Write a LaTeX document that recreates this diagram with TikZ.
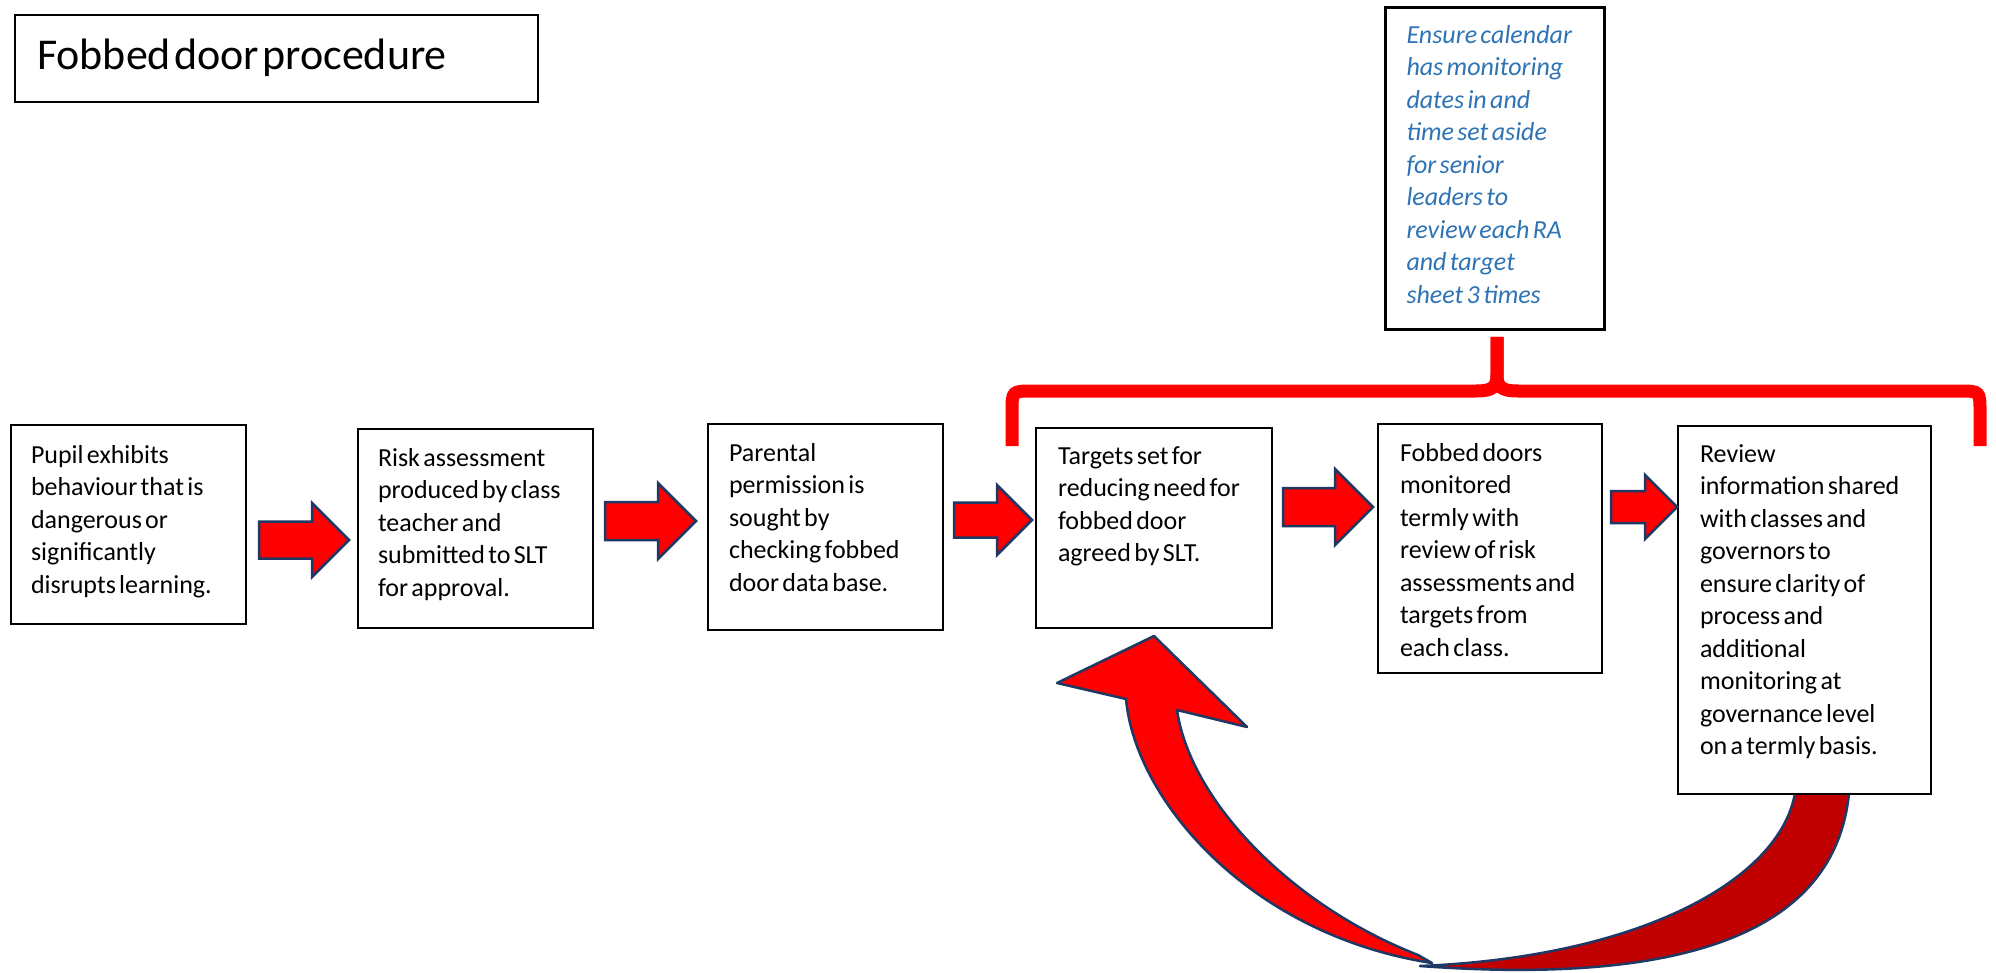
\documentclass[tikz,border=0pt]{standalone}
\usepackage{fontspec}
\setmainfont{Carlito}
\usetikzlibrary{calc,backgrounds}
\definecolor{fobred}{RGB}{255,0,0}
\definecolor{fobdark}{RGB}{192,0,0}
\definecolor{fobnavy}{RGB}{32,56,100}
\definecolor{fobblue}{RGB}{46,116,181}

\tikzset{
  stepbox/.style={draw=black, line width=2pt, fill=white, anchor=north west,
    inner ysep=0pt, inner xsep=21pt, align=left,
    execute at begin node={\fontsize{26}{32.5}\selectfont\rightskip=0pt plus 1fil minus 30pt\relax}},
  notebox/.style={stepbox, line width=3pt, text=fobblue, execute at begin node={\itshape}},
  titlebox/.style={stepbox, execute at begin node={\fontsize{44}{52}\selectfont\rightskip=0pt plus 1fil\relax}},
  blockarrow/.style={fill=fobred, draw=fobnavy, line width=2.5pt},
  bracepath/.style={draw=fobred, line width=13pt},
  loopband/.style={draw=fobnavy, line width=2.5pt, line join=round},
}

% block arrow between two boxes: from, to, centre y, start gap, end gap, half shaft
\newcommand\fobarrow[6]{%
  \path (#1.east |- 0,#3) ++(#4,0) coordinate (#1 out);
  \path (#2.west |- 0,#3) ++(-#5,0) coordinate (#2 in);
  \draw[blockarrow] ($(#1 out)+(0,#6)$) -- ($(#2 in)+(-2*#6,#6)$)
    -- ($(#2 in)+(-2*#6,2*#6)$) -- (#2 in) -- ($(#2 in)+(-2*#6,-2*#6)$)
    -- ($(#2 in)+(-2*#6,-#6)$) -- ($(#1 out)+(0,-#6)$) -- cycle;
}

\begin{document}
\begin{tikzpicture}[x=1pt, y=-1pt]
\useasboundingbox (0,0) rectangle (1996,973);

\node[titlebox, text width=479pt, text height=55pt, text depth=32pt, inner xsep=22pt] (title) at (14,14) {Fobbed door procedure};

\node[notebox, text width=177pt, text height=36pt, text depth=286pt] (calendar) at (1384,6)
  {Ensure calendar\\has monitoring\\dates in and\\time set aside\\for senior\\leaders to\\review each RA\\and target\\sheet 3 times};

% the six steps
\node[stepbox, text width=195pt, text height=38pt, text depth=161pt, inner xsep=20pt] (pupil) at (10,424)
  {Pupil exhibits\\behaviour that is\\dangerous or\\significantly\\disrupts learning.};
\node[stepbox, text width=195pt, text height=37pt, text depth=162pt, inner xsep=20pt] (riskassess) at (357,428)
  {Risk assessment\\produced by class\\teacher and\\submitted to SLT\\for approval.};
\node[stepbox, text width=193pt, text height=37pt, text depth=169pt] (permission) at (707,423)
  {Parental\\permission is\\sought by\\checking fobbed\\door data base.};
\node[stepbox, text width=192pt, text height=36pt, text depth=164pt, inner xsep=22pt] (targets) at (1035,427)
  {Targets set for\\reducing need for\\fobbed door\\agreed by SLT.};
\node[stepbox, text width=180pt, text height=37pt, text depth=212pt, inner xsep=22pt] (monitor) at (1377,423)
  {Fobbed doors\\monitored\\termly with\\review of risk\\assessments and\\targets from\\each class.};
\node[stepbox, text width=209pt, text height=36pt, text depth=332pt, inner xsep=22pt] (review) at (1677,425)
  {Review\\information shared\\with classes and\\governors to\\ensure clarity of\\process and\\additional\\monitoring at\\governance level\\on a termly basis.};

% block arrows
\fobarrow{pupil}{riskassess}{540}{12}{8}{18.5}
\fobarrow{riskassess}{permission}{521}{11}{11}{19}
\fobarrow{permission}{targets}{520}{10}{3}{17.5}
\fobarrow{targets}{monitor}{507}{10}{4}{19}
\fobarrow{monitor}{review}{507}{8}{0}{16}

% brace under the calendar note
\path (calendar.south) ++(0,6) coordinate (stemtop);
\draw[bracepath] (1012,446) -- (1012,412) .. controls (1012,391) .. (1033,391) -- (1476,391)
  .. controls (1493,391) and (1497,387) .. (1497,374) -- (stemtop -| 1497,0);
\draw[bracepath] (1980,446) -- (1980,412) .. controls (1980,391) .. (1959,391) -- (1518,391)
  .. controls (1501,391) and (1497,387) .. (1497,374) -- (stemtop -| 1497,0);

% loop back from review to targets
\coordinate (looptip) at ([yshift=-7pt]targets.south);
\begin{scope}[on background layer]
  \fill[white] (0,0) rectangle (1996,973);
  \draw[loopband, fill=fobdark] (1849,770) -- (1849,793) .. controls (1835,935) and (1680,985) .. (1420,966)
    .. controls (1640,957) and (1780,880) .. (1795,793) -- (1795,770) -- cycle;
  \draw[loopband, fill=fobred] (1177,710) .. controls (1190,800) and (1290,905) .. (1418,955) -- (1432,963)
    .. controls (1250,935) and (1135,800) .. (1126,699) -- (1057,683) -- (looptip) -- (1247,727) -- cycle;
\end{scope}
\end{tikzpicture}
\end{document}
